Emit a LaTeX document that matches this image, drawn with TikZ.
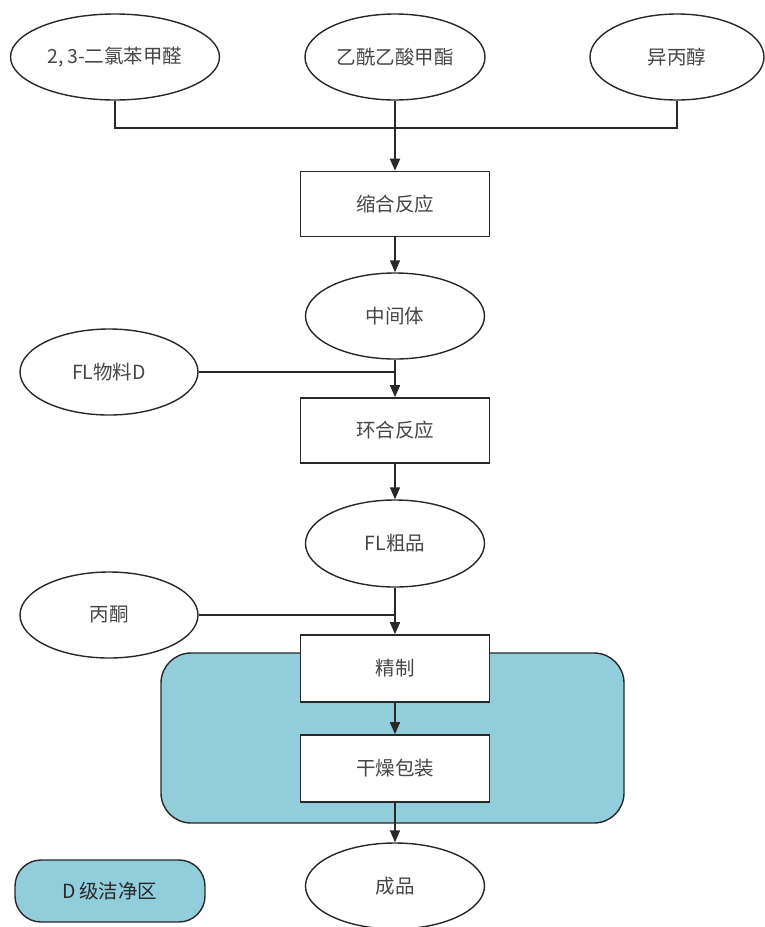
\documentclass[tikz,border=0pt]{standalone}
\usepackage{fontspec}
\setmainfont{Noto Sans CJK SC}
\usetikzlibrary{shapes.geometric,arrows.meta}
\definecolor{zone}{RGB}{146,205,220}
\definecolor{ink}{RGB}{40,40,40}
\definecolor{txt}{RGB}{70,70,70}
\tikzset{
  ell/.style={ellipse,draw=ink,line width=1.4pt,fill=white,inner sep=0pt,text=txt,font=\fontsize{19.5}{20}\selectfont},
  boxn/.style={rectangle,draw=ink,line width=1.6pt,fill=white,minimum width=189pt,minimum height=65pt,inner sep=0pt,text=txt,font=\fontsize{19.5}{20}\selectfont},
  conn/.style={draw=ink,line width=1.5pt},
  arr/.style={conn,-{Triangle[width=10pt,length=12pt]}}
}
\begin{document}
\begin{tikzpicture}[x=1pt,y=-1pt]
\useasboundingbox (0,0) rectangle (764,927);
% clean zone
\node[draw=ink,line width=1.4pt,fill=zone,rounded corners=30pt,minimum width=463pt,minimum height=170pt,inner sep=0pt] (zone) at (392.5,738) {};
% top inputs
\node[ell,minimum width=209pt,minimum height=86pt] (e1) at (115,57) {2,\,3-二氯苯甲醛};
\node[ell,minimum width=180pt,minimum height=86pt] (e2) at (395,57) {乙酰乙酸甲酯};
\node[ell,minimum width=174pt,minimum height=86pt] (e3) at (677,57) {异丙醇};
\coordinate (j1) at (395,128);
% chain
\node[boxn] (b1) at (395,204) {缩合反应};
\node[ell,minimum width=179pt,minimum height=86pt] (m1) at (395,316) {中间体};
\node[ell,minimum width=178pt,minimum height=86pt] (fl) at (109,372) {FL物料D};
\node[boxn] (b2) at (395,430.5) {环合反应};
\node[ell,minimum width=179pt,minimum height=87pt] (m2) at (395,543.5) {FL粗品};
\node[ell,minimum width=178pt,minimum height=86pt] (ac) at (109,615) {丙酮};
\node[boxn,minimum height=67pt] (b3) at (395,668.5) {精制};
\node[boxn,minimum height=67pt] (b4) at (395,768.5) {干燥包装};
\node[ell,minimum width=179pt,minimum height=86pt] (pr) at (395,886) {成品};
% legend
\node[draw=ink,line width=1.4pt,fill=zone,rounded corners=26pt,minimum width=190pt,minimum height=62pt,inner sep=0pt,text=ink,font=\fontsize{19.5}{20}\selectfont] (leg) at (110,891) {D\,级洁净区};
% connectors
\draw[conn] (e1.south) |- (j1) -| (e3.south);
\draw[arr,line width=2pt] (e2.south) -- (b1.north);
\draw[arr] (b1.south) -- (m1.north);
\draw[conn] (fl.east) -- (fl.east -| m1.south);
\draw[arr] (m1.south) -- (b2.north);
\draw[arr] (b2.south) -- (m2.north);
\draw[conn] (ac.east) -- (ac.east -| m2.south);
\draw[arr] (m2.south) -- (b3.north);
\draw[arr] (b3.south) -- (b4.north);
\draw[arr] (b4.south) -- (pr.north);
\end{tikzpicture}
\end{document}
